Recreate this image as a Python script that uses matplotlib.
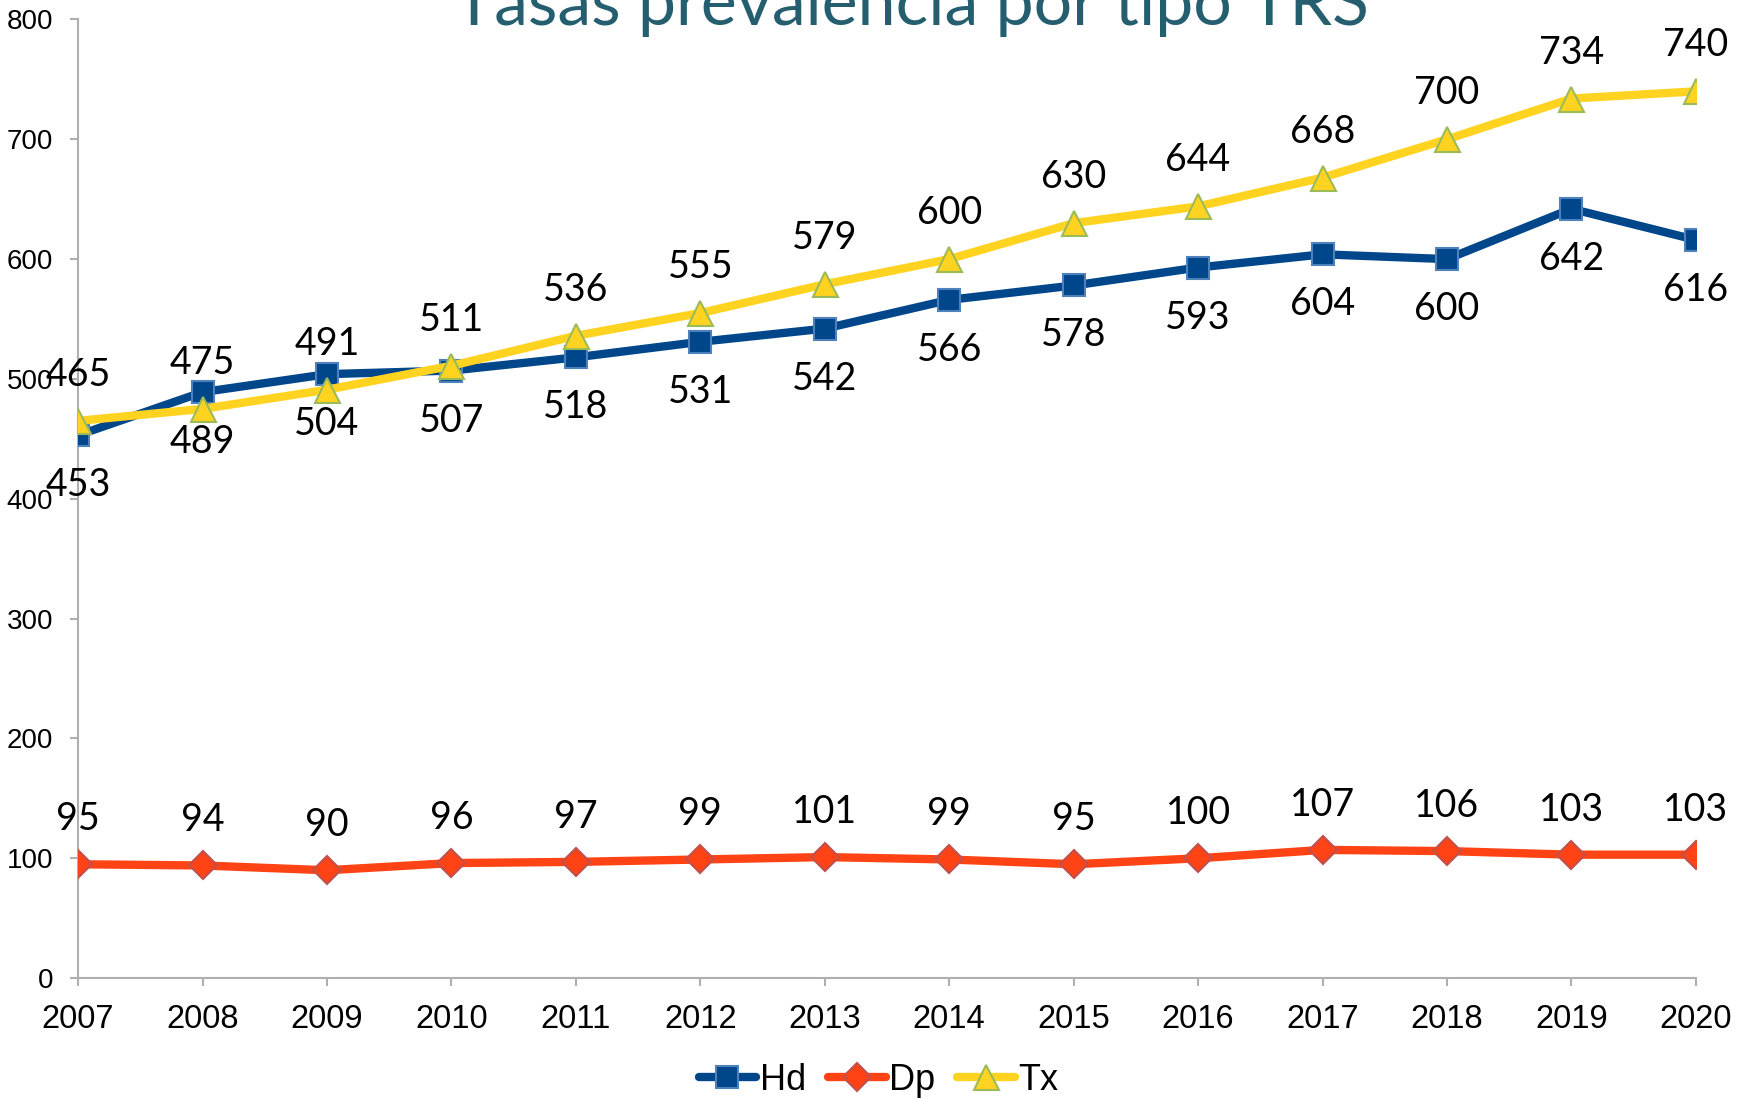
import matplotlib
matplotlib.use("Agg")
import matplotlib.pyplot as plt
from matplotlib.lines import Line2D

# data
years = [2007, 2008, 2009, 2010, 2011, 2012, 2013, 2014, 2015, 2016, 2017, 2018, 2019, 2020]
hd = [453, 489, 504, 507, 518, 531, 542, 566, 578, 593, 604, 600, 642, 616]
dp = [95, 94, 90, 96, 97, 99, 101, 99, 95, 100, 107, 106, 103, 103]
tx = [465, 475, 491, 511, 536, 555, 579, 600, 630, 644, 668, 700, 734, 740]
yticks = [0, 100, 200, 300, 400, 500, 600, 700, 800]

HD_COL, HD_EDGE = "#00468B", "#4F81BD"
DP_COL, DP_EDGE = "#FF4314", "#C0504D"
TX_COL, TX_EDGE = "#FFD320", "#9BBB59"
LABEL_FONT = "Lato"

fig = plt.figure(figsize=(17.5, 10.99), dpi=100)
ax = fig.add_axes([0.0446, 0.110, 0.9245, 0.8723])

x = list(range(len(years)))
ax.plot(x, hd, color=HD_COL, lw=6, marker="s", ms=16, mfc=HD_COL, mec=HD_EDGE, mew=1.5,
        label="Hd", zorder=3, solid_joinstyle="round")
ax.plot(x, dp, color=DP_COL, lw=6, marker="D", ms=14, mfc=DP_COL, mec=DP_EDGE, mew=1.5,
        label="Dp", zorder=3, solid_joinstyle="round")
ax.plot(x, tx, color=TX_COL, lw=6, marker="^", ms=18, mfc=TX_COL, mec=TX_EDGE, mew=1.5,
        label="Tx", zorder=4, solid_joinstyle="round")

# Hd labels sit below the markers, Tx and Dp labels above
for i in x:
    ax.annotate(str(hd[i]), (i, hd[i]), xytext=(0, -50), textcoords="offset pixels",
                ha="center", va="center", fontsize=27, family=LABEL_FONT, zorder=5)
    ax.annotate(str(tx[i]), (i, tx[i]), xytext=(0, 46), textcoords="offset pixels",
                ha="center", va="center", fontsize=27, family=LABEL_FONT, zorder=5)
    ax.annotate(str(dp[i]), (i, dp[i]), xytext=(0, 45), textcoords="offset pixels",
                ha="center", va="center", fontsize=27, family=LABEL_FONT, zorder=5)

ax.set_xlim(0, len(years) - 1)
ax.set_ylim(0, 800)
ax.set_yticks(yticks)
ax.set_xticks(x)
ax.set_xticklabels([str(y) for y in years])
for lab in ax.get_yticklabels():
    lab.set_family("Liberation Sans")
    lab.set_fontsize(20)
for lab in ax.get_xticklabels():
    lab.set_family("Liberation Sans")
    lab.set_fontsize(23.5)
ax.tick_params(axis="both", colors="#AFAFAF", length=6, width=1.5, labelcolor="black")
ax.tick_params(axis="x", pad=13)
ax.tick_params(axis="y", pad=12)
for side in ["top", "right"]:
    ax.spines[side].set_visible(False)
for side in ["left", "bottom"]:
    ax.spines[side].set_color("#AFAFAF")
    ax.spines[side].set_linewidth(1.5)
ax.patch.set_alpha(0)

fig.text(0.5206, 0.977, "Tasas prevalencia por tipo TRS", ha="center", va="baseline",
         fontsize=49, color="#255E6E", family=LABEL_FONT)

handles = [
    Line2D([], [], color=HD_COL, lw=6, marker="s", ms=16, mfc=HD_COL, mec=HD_EDGE, mew=1.5, solid_capstyle="round"),
    Line2D([], [], color=DP_COL, lw=6, marker="D", ms=14, mfc=DP_COL, mec=DP_EDGE, mew=1.5, solid_capstyle="round"),
    Line2D([], [], color=TX_COL, lw=6, marker="^", ms=18, mfc=TX_COL, mec=TX_EDGE, mew=1.5, solid_capstyle="round"),
]
fig.legend(handles, ["Hd", "Dp", "Tx"], loc="center", bbox_to_anchor=(0.502, 0.017), ncol=3,
           frameon=False, handlelength=1.6, handletextpad=0.1, columnspacing=0.6,
           prop={"family": "Liberation Sans", "size": 26}, borderpad=0)

fig.savefig("out.png", dpi=100)
